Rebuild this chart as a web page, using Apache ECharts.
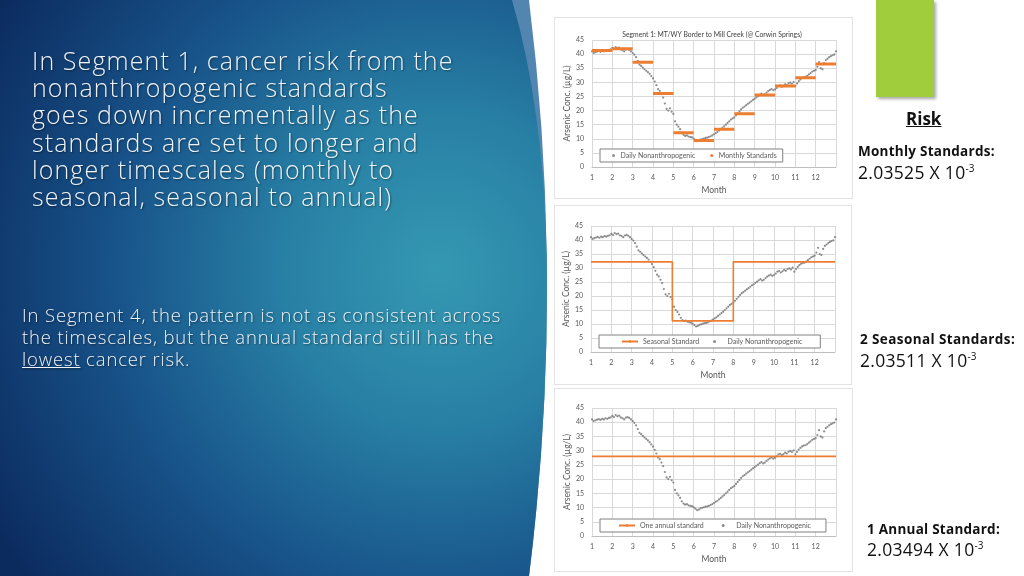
<!DOCTYPE html>
<html><head><meta charset="utf-8">
<script src="https://cdn.jsdelivr.net/npm/echarts@6/dist/echarts.min.js"></script>
<style>
html,body{margin:0;padding:0;width:1024px;height:576px;overflow:hidden;background:#fff;}
#bg{position:absolute;left:0;top:0;}
.frame{position:absolute;background:#fff;border:1px solid #e3e3e3;box-sizing:border-box;}
#chart{position:absolute;left:0;top:0;width:1024px;height:576px;}
.t{position:absolute;white-space:nowrap;font-family:'Open Sans',sans-serif;}
.w{color:#eef3f8;text-shadow:1px 1px 2px rgba(0,0,0,0.45);font-weight:300;}
.k{color:#111;}
sup{font-size:10px;vertical-align:7px;line-height:0;letter-spacing:0;}
#green{position:absolute;left:876px;top:0;width:58px;height:97px;background:#a0cd3c;box-shadow:2px 2px 3px rgba(0,0,0,0.35);}
</style>
</head><body>
<svg id="bg" width="1024" height="576" xmlns="http://www.w3.org/2000/svg">
  <defs>
    <radialGradient id="rg" gradientUnits="userSpaceOnUse" cx="440" cy="270" r="520">
      <stop offset="0" stop-color="#3598b2"/>
      <stop offset="0.3" stop-color="#2880a5"/>
      <stop offset="0.62" stop-color="#18548a"/>
      <stop offset="1" stop-color="#0b2a5e"/>
    </radialGradient>
  </defs>
  <path d="M0,0 L529,0 Q547,144 547,288 Q547,432 529,576 L0,576 Z" fill="#5286b0"/>
  <path d="M0,0 L512,0 Q547,120 547,288 Q547,432 529,576 L0,576 Z" fill="url(#rg)"/>
</svg>
<div class="frame" style="left:554px;top:17px;width:299px;height:182px;"></div>
<div class="frame" style="left:554px;top:205px;width:298px;height:180px;"></div>
<div class="frame" style="left:554px;top:388px;width:299px;height:184px;"></div>
<div id="green"></div>
<div id="chart"></div>

<div class="t w" style="left:32px;top:47px;font-size:25px;line-height:27.2px;letter-spacing:1.1px;">In Segment 1, cancer risk from the<br>nonanthropogenic standards<br>goes down incrementally as the<br>standards are set to longer and<br>longer timescales (monthly to<br>seasonal, seasonal to annual)</div>
<div class="t w" style="left:22px;top:304px;font-size:18.5px;line-height:22px;letter-spacing:0.85px;">In Segment 4, the pattern is not as consistent across<br>the timescales, but the annual standard still has the<br><u>lowest</u> cancer risk.</div>

<div class="t k" style="left:906px;top:108px;font-size:17px;line-height:22px;font-weight:bold;"><u>Risk</u></div>
<div class="t k" style="left:858px;top:143px;font-size:13.5px;line-height:16px;font-weight:bold;letter-spacing:0.25px;">Monthly Standards:</div>
<div class="t k" style="left:858px;top:161px;font-size:17.5px;line-height:22px;letter-spacing:0.3px;">2.03525 X 10<sup>-3</sup></div>
<div class="t k" style="left:860px;top:331px;font-size:13.5px;line-height:16px;font-weight:bold;letter-spacing:0.4px;">2 Seasonal Standards:</div>
<div class="t k" style="left:860px;top:349px;font-size:17.5px;line-height:22px;letter-spacing:0.3px;">2.03511 X 10<sup>-3</sup></div>
<div class="t k" style="left:867px;top:521px;font-size:13.5px;line-height:16px;font-weight:bold;letter-spacing:0.25px;">1 Annual Standard:</div>
<div class="t k" style="left:867px;top:538px;font-size:17.5px;line-height:22px;letter-spacing:0.3px;">2.03494 X 10<sup>-3</sup></div>

<script>
// Daily nonanthropogenic arsenic concentration (µg/L), sampled every 1/12 month from month 1 to 13
const dailyValues = [
41.0,40.4,40.7,40.9,41.1,40.8,41.2,41.0,41.4,41.2,41.5,41.7,
42.2,41.8,42.5,42.1,42.3,41.7,41.4,41.0,41.6,41.8,41.5,41.0,
40.4,39.8,38.9,37.6,36.3,35.8,35.2,34.6,34.1,33.6,33.0,32.2,
31.4,30.3,29.0,27.6,27.0,25.8,24.6,22.5,20.6,20.0,20.8,19.6,
18.8,16.2,15.0,14.3,13.4,12.2,11.4,11.0,11.2,10.8,10.6,10.5,
10.1,9.6,9.1,9.3,9.7,9.9,10.1,10.3,10.4,10.6,10.9,11.2,
11.6,12.0,12.4,12.9,13.4,13.9,14.4,15.0,15.6,16.2,16.8,17.2,
17.6,18.3,19.0,19.7,20.4,21.0,21.4,21.9,22.4,22.8,23.3,23.8,
24.2,24.7,25.1,25.6,26.0,25.5,25.8,26.4,26.9,27.3,27.6,27.2,
27.5,28.0,28.7,28.9,28.4,28.8,29.3,29.0,29.6,29.9,29.5,30.1,
28.7,29.6,30.4,31.0,31.5,31.8,31.9,32.3,32.8,33.3,33.8,34.1,
34.4,35.5,37.2,35.0,34.6,36.8,37.9,38.4,38.9,39.3,39.6,39.9,
41.0];
const dailyStart = 1, dailyPerMonth = 12;
const months = [1,2,3,4,5,6,7,8,9,10,11,12];
const monthlyStandards = [41.3,41.9,37.1,26.0,12.1,9.4,13.4,18.9,25.5,28.7,31.6,36.5];
const seasonBounds = [1,5,8,13];
const seasonalStandards = [32.2,11.1,32.2];
const annualStandard = 28.0;
const yTicks = [0,5,10,15,20,25,30,35,40,45];
const xTicks = months;
const chartTitle = 'Segment 1: MT/WY Border to Mill Creek (@ Corwin Springs)';

const ORANGE = '#ED7D31', DOT = '#707070', TXT = '#595959', GRIDC = '#d9d9d9';
const FONT = 'Lato, "Liberation Sans", sans-serif';

const dailyData = dailyValues.map((v,i)=>[dailyStart + i/dailyPerMonth, v]);

const grids = [
  {left:592, top:40, width:244, height:127},
  {left:591, top:226, width:244, height:126},
  {left:592, top:408, width:244, height:128}
];
function xAx(i){return {gridIndex:i,type:'value',min:1,max:13,interval:1,
  axisLine:{show:true,lineStyle:{color:'#bfbfbf'}},axisTick:{show:false},
  splitLine:{show:true,lineStyle:{color:GRIDC,width:1}},
  axisLabel:{color:TXT,fontSize:7,fontFamily:FONT,margin:7,formatter:v=>xTicks.indexOf(v)>=0?String(v):''},
  name:'Month',nameLocation:'middle',nameGap:19,nameTextStyle:{color:TXT,fontSize:8.5,fontFamily:FONT}};}
function yAx(i){return {gridIndex:i,type:'value',min:yTicks[0],max:yTicks[yTicks.length-1],interval:5,
  axisLine:{show:false},axisTick:{show:false},
  splitLine:{show:true,lineStyle:{color:GRIDC,width:1}},
  axisLabel:{color:TXT,fontSize:7,fontFamily:FONT,margin:8},
  name:'Arsenic Conc. (µg/L)',nameLocation:'middle',nameGap:20,nameTextStyle:{color:TXT,fontSize:8.5,fontFamily:FONT}};}

const series = [];
[0,1,2].forEach(i=>{
  series.push({type:'scatter',name:'Daily Nonanthropogenic',xAxisIndex:i,yAxisIndex:i,
    symbol:'circle',symbolSize:2.2,itemStyle:{color:DOT},data:dailyData,z:2,silent:true});
});
months.forEach((m,k)=>{
  series.push({type:'line',name:'Monthly Standards',xAxisIndex:0,yAxisIndex:0,symbol:'none',
    lineStyle:{color:ORANGE,width:3},itemStyle:{color:ORANGE},
    data:[[m,monthlyStandards[k]],[m+1,monthlyStandards[k]]],z:3,silent:true});
});
const seasonalData = [];
seasonalStandards.forEach((v,k)=>{seasonalData.push([seasonBounds[k],v]);seasonalData.push([seasonBounds[k+1],v]);});
series.push({type:'line',name:'Seasonal Standard',xAxisIndex:1,yAxisIndex:1,symbol:'none',
  lineStyle:{color:ORANGE,width:1.6},itemStyle:{color:ORANGE},data:seasonalData,z:3,silent:true});
series.push({type:'line',name:'One annual standard',xAxisIndex:2,yAxisIndex:2,symbol:'none',
  lineStyle:{color:ORANGE,width:1.6},itemStyle:{color:ORANGE},data:[[1,annualStandard],[13,annualStandard]],z:3,silent:true});

const legBase = {orient:'horizontal',backgroundColor:'#fff',borderColor:'#808080',borderWidth:1,
  textStyle:{color:TXT,fontSize:7,fontFamily:FONT},selectedMode:false,itemHeight:3};
const option = {
  animation:false,
  textStyle:{fontFamily:FONT},
  title:{text:chartTitle,left:707,textAlign:'center',top:26,textStyle:{color:'#404040',fontSize:6.8,fontWeight:'normal',fontFamily:FONT}},
  grid:grids,
  xAxis:[xAx(0),xAx(1),xAx(2)],
  yAxis:[yAx(0),yAx(1),yAx(2)],
  legend:[
    Object.assign({},legBase,{left:600,top:149,padding:[3,6,3,12],itemWidth:4,itemGap:15,
      data:[{name:'Daily Nonanthropogenic',icon:'circle'},{name:'Monthly Standards',icon:'circle'}]}),
    Object.assign({},legBase,{left:599,top:335,padding:[3,18,3,22],itemWidth:16,itemGap:14,
      data:[{name:'Seasonal Standard'},{name:'Daily Nonanthropogenic',icon:'circle'}]}),
    Object.assign({},legBase,{left:600,top:519,padding:[3,15,3,18],itemWidth:16,itemGap:18,
      data:[{name:'One annual standard'},{name:'Daily Nonanthropogenic',icon:'circle'}]})
  ],
  series:series
};
const chart = echarts.init(document.getElementById('chart'),null,{renderer:'canvas'});
chart.setOption(option);
</script>
</body></html>
